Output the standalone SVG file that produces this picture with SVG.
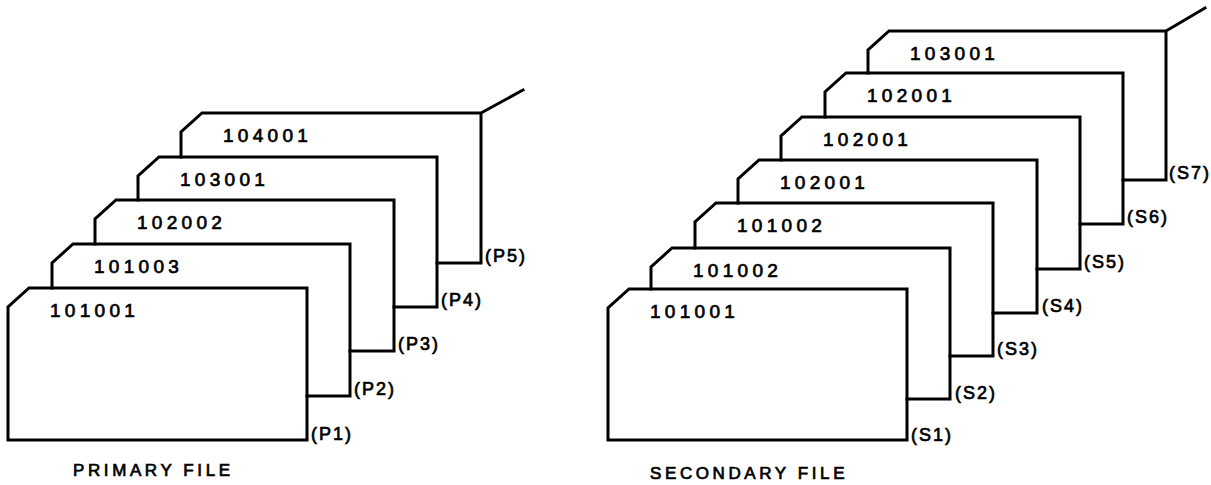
<svg xmlns="http://www.w3.org/2000/svg" width="1211" height="485" viewBox="0 0 1211 485">
<style>
.c{fill:none;stroke:#000;stroke-width:3;stroke-linejoin:miter;stroke-linecap:square}
.k,.p,.t{font-family:"Liberation Sans",Arial,sans-serif;fill:#000;stroke:#000;stroke-width:0.7px}
.k{font-size:19px;letter-spacing:4.3px}
.p{font-size:18px;letter-spacing:2px}
.t{font-size:17px;letter-spacing:3.6px}
</style>
<rect width="1211" height="485" fill="#fff"/>
<g id="primary">
<g id="P1"><path class="c" d="M8,440 L8,307 L29,288 L307,288 L307,440 Z"/><text class="k" x="50" y="317">101001</text><text class="p" x="311" y="440">(P1)</text></g>
<g id="P2"><path class="c" d="M52,288 L52,263 L73,244 L350,244 L350,396 L307,396"/><text class="k" x="94" y="273">101003</text><text class="p" x="354" y="395">(P2)</text></g>
<g id="P3"><path class="c" d="M95,244 L95,219 L116,200 L394,200 L394,351 L350,351"/><text class="k" x="137" y="229">102002</text><text class="p" x="398" y="350">(P3)</text></g>
<g id="P4"><path class="c" d="M138,200 L138,176 L159,157 L437,157 L437,307 L394,307"/><text class="k" x="180" y="186">103001</text><text class="p" x="441" y="306">(P4)</text></g>
<g id="P5"><path class="c" d="M181,157 L181,132 L202,113 L481,113 L481,263 L437,263 M481,113 L523,90"/><text class="k" x="223" y="142">104001</text><text class="p" x="485" y="262">(P5)</text></g>
<text class="t" x="73" y="476">PRIMARY FILE</text>
</g>
<g id="secondary">
<g id="S1"><path class="c" d="M608,440 L608,308 L629,289 L907,289 L907,440 Z"/><text class="k" x="650" y="318">101001</text><text class="p" x="911" y="441">(S1)</text></g>
<g id="S2"><path class="c" d="M651,289 L651,267 L672,248 L950,248 L950,399 L907,399"/><text class="k" x="693" y="277">101002</text><text class="p" x="955" y="399">(S2)</text></g>
<g id="S3"><path class="c" d="M695,248 L695,222 L716,203 L993,203 L993,356 L950,356"/><text class="k" x="737" y="232">101002</text><text class="p" x="997" y="355">(S3)</text></g>
<g id="S4"><path class="c" d="M738,203 L738,179 L759,160 L1037,160 L1037,313 L993,313"/><text class="k" x="780" y="189">102001</text><text class="p" x="1042" y="312">(S4)</text></g>
<g id="S5"><path class="c" d="M781,160 L781,136 L802,117 L1080,117 L1080,269 L1037,269"/><text class="k" x="823" y="146">102001</text><text class="p" x="1084" y="268">(S5)</text></g>
<g id="S6"><path class="c" d="M825,117 L825,92 L846,73 L1123,73 L1123,224 L1080,224"/><text class="k" x="867" y="102">102001</text><text class="p" x="1127" y="223">(S6)</text></g>
<g id="S7"><path class="c" d="M868,73 L868,50 L889,31 L1166,31 L1166,180 L1123,180 M1166,31 L1205,8"/><text class="k" x="910" y="60">103001</text><text class="p" x="1169" y="179">(S7)</text></g>
<text class="t" x="650" y="479">SECONDARY FILE</text>
</g>
<g id="connectors"/>
</svg>
